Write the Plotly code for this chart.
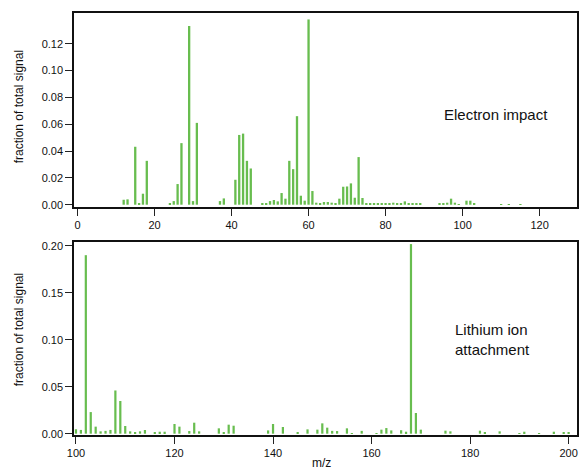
import plotly.graph_objects as go
from plotly.subplots import make_subplots

# Electron impact spectrum (m/z, fraction of total signal)
ei_mz = [12, 13, 15, 16, 17, 18, 24, 25, 26, 27, 29, 30, 31, 37, 38, 41, 42, 43, 44, 45,
         48, 49, 50, 51, 52, 53, 54, 55, 56, 57, 58, 59, 60, 61, 62, 63, 64, 65, 66, 67,
         68, 69, 70, 71, 72, 73, 74, 75, 76, 77, 78, 79, 80, 81, 82, 83, 84, 85, 86, 87,
         88, 89, 94, 95, 96, 97, 98, 99, 101, 102, 103, 110, 112, 115, 130]
ei_frac = [0.0037, 0.0040, 0.0432, 0.0012, 0.0082, 0.0327, 0.0007, 0.0027, 0.0154, 0.0459,
           0.1332, 0.0027, 0.0610, 0.0027, 0.0047, 0.0186, 0.0520, 0.0530, 0.0327, 0.0270,
           0.0007, 0.0007, 0.0027, 0.0035, 0.0025, 0.0087, 0.0045, 0.0327, 0.0265, 0.0660,
           0.0067, 0.0030, 0.1381, 0.0102, 0.0015, 0.0010, 0.0020, 0.0020, 0.0015, 0.0007,
           0.0045, 0.0134, 0.0136, 0.0159, 0.0052, 0.0355, 0.0050, 0.0006, 0.0006, 0.0006,
           0.0006, 0.0006, 0.0008, 0.0010, 0.0015, 0.0010, 0.0012, 0.0025, 0.0010, 0.0012,
           0.0008, 0.0012, 0.0007, 0.0008, 0.0015, 0.0045, 0.0015, 0.0005, 0.0030, 0.0030,
           0.0007, 0.0004, 0.0004, 0.0004, 0.0020]

# Lithium ion attachment spectrum
li_mz = [100, 101, 102, 103, 104, 105, 106, 107, 108, 109, 110, 111, 112, 113, 114, 116,
         117, 118, 120, 121, 123, 124, 125, 129, 130, 131, 132, 139, 140, 142, 145, 147,
         149, 150, 151, 152, 153, 155, 156, 158, 161, 162, 163, 164, 166, 167, 168, 169,
         170, 175, 176, 182, 183, 186, 190, 191, 194, 197, 199, 200]
li_frac = [0.0047, 0.0040, 0.1900, 0.0230, 0.0075, 0.0025, 0.0030, 0.0040, 0.0460, 0.0348,
           0.0082, 0.0025, 0.0015, 0.0025, 0.0039, 0.0011, 0.0021, 0.0021, 0.0103, 0.0075,
           0.0028, 0.0117, 0.0025, 0.0057, 0.0014, 0.0096, 0.0085, 0.0035, 0.0103, 0.0071,
           0.0014, 0.0046, 0.0043, 0.0110, 0.0064, 0.0030, 0.0028, 0.0057, 0.0007, 0.0030,
           0.0007, 0.0043, 0.0060, 0.0035, 0.0037, 0.0021, 0.2018, 0.0220, 0.0043, 0.0032,
           0.0025, 0.0032, 0.0018, 0.0025, 0.0007, 0.0021, 0.0007, 0.0021, 0.0010, 0.0018]

ei_xticks = [0, 20, 40, 60, 80, 100, 120]
li_xticks = [100, 120, 140, 160, 180, 200]
ei_yticks = [0.00, 0.02, 0.04, 0.06, 0.08, 0.10, 0.12]
li_yticks = [0.00, 0.05, 0.10, 0.15, 0.20]

BAR = "#68bd4f"
FONT = "Arial, Liberation Sans, sans-serif"

fig = make_subplots(rows=2, cols=1, vertical_spacing=0.0)

fig.add_trace(go.Bar(x=ei_mz, y=ei_frac, width=0.6, marker=dict(color=BAR, line=dict(width=0)),
                     showlegend=False), row=1, col=1)
fig.add_trace(go.Bar(x=li_mz, y=li_frac, width=0.45, marker=dict(color=BAR, line=dict(width=0)),
                     showlegend=False), row=2, col=1)

axis_common = dict(showline=True, mirror=True, linecolor="#111", linewidth=1.5,
                   ticks="outside", ticklen=7, tickwidth=1, tickcolor="#222",
                   showgrid=False, zeroline=False,
                   tickfont=dict(family=FONT, size=11, color="#111"))

fig.update_xaxes(axis_common, row=1, col=1, range=[-0.9, 129.7], tickvals=ei_xticks,
                 domain=[0, 1])
fig.update_xaxes(axis_common, row=2, col=1, range=[99.6, 201.7], tickvals=li_xticks)
fig.update_yaxes(axis_common, row=1, col=1, range=[-0.0017, 0.1429], tickvals=ei_yticks,
                 tickformat=".2f", domain=[0.5403, 1])
fig.update_yaxes(axis_common, row=2, col=1, range=[-0.0014, 0.204], tickvals=li_yticks,
                 tickformat=".2f", domain=[0, 0.4573])

ann_font = dict(family=FONT, size=15, color="#111")
title_font = dict(family=FONT, size=12, color="#111")
fig.update_layout(
    width=583, height=473,
    margin=dict(l=74, r=4, t=13, b=38),
    paper_bgcolor="white", plot_bgcolor="white",
    barmode="overlay",
    annotations=[
        dict(text="Electron impact", xref="paper", yref="paper", x=0.8396, y=0.7583,
             xanchor="center", yanchor="middle", showarrow=False, font=ann_font),
        dict(text="Lithium ion<br>attachment", xref="paper", yref="paper", x=0.8317, y=0.2263,
             xanchor="center", yanchor="middle", showarrow=False, font=ann_font, align="left"),
        dict(text="fraction of total signal", xref="paper", yref="paper", x=-0.1089, y=0.777,
             xanchor="center", yanchor="middle", textangle=-90, showarrow=False, font=title_font),
        dict(text="fraction of total signal", xref="paper", yref="paper", x=-0.1089, y=0.2488,
             xanchor="center", yanchor="middle", textangle=-90, showarrow=False, font=title_font),
        dict(text="m/z", xref="paper", yref="paper", x=0.493, y=-0.0664,
             xanchor="center", yanchor="middle", showarrow=False, font=title_font),
    ],
)

fig.write_html("out.html")
